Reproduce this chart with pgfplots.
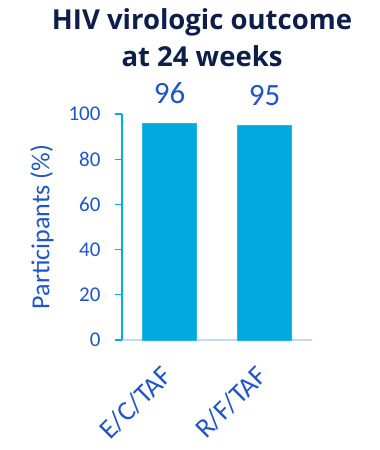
\documentclass[border=0pt]{standalone}
\usepackage{pgfplots}
\pgfplotsset{compat=1.18}
\usepackage{fontspec}
\setmainfont{Carlito}
\newfontfamily\titlefont{Open Sans}

\definecolor{barcyan}{HTML}{00A9DF}
\definecolor{axiscyan}{HTML}{00ADE6}
\definecolor{baseline}{HTML}{C6DAF2}
\definecolor{textblue}{HTML}{1F55C8}
\definecolor{titlenavy}{HTML}{0E1E4A}

\begin{document}
\begin{tikzpicture}
\begin{axis}[
  at={(0,0)}, anchor=south west,
  scale only axis, width=190bp, height=226bp,
  xmin=-0.5, xmax=1.5, ymin=0, ymax=100,
  axis x line=bottom, axis y line=left,
  axis line style={-},
  x axis line style={draw=baseline, line width=1.2bp},
  y axis line style={draw=axiscyan, line width=1.5bp},
  ytick={0,20,...,100},
  tick align=outside, major tick length=7bp,
  ytick style={draw=axiscyan, line width=1.2bp},
  xtick={0,1}, xticklabels={E/C/TAF,R/F/TAF},
  xtick style={draw=none},
  /pgf/number format/assume math mode=true,
  yticklabel style={font=\fontsize{21bp}{24bp}\selectfont, text=textblue, xshift=-11bp},
  xticklabel shift=22bp,
  xticklabel style={font=\fontsize{27.5bp}{32bp}\selectfont, text=textblue, rotate=45, anchor=east},
  ylabel={Participants (\%)},
  every axis y label/.style={at={(axis description cs:0,0.5)}, xshift=-80bp, rotate=90, anchor=center,
    font=\fontsize{26bp}{30bp}\selectfont, text=textblue},
  ybar, bar width=54bp,
  nodes near coords,
  every node near coord/.style={anchor=base, yshift=20bp, font=\fontsize{31bp}{36bp}\selectfont, text=textblue},
]
\addplot[fill=barcyan, draw=barcyan!85!white, line width=0.6bp] coordinates {(0,96) (1,95)};
\end{axis}
\node[anchor=base, text=titlenavy, font=\titlefont\bfseries\fontsize{27.5bp}{32bp}\selectfont] at (80bp,310bp) {HIV virologic outcome};
\node[anchor=base, text=titlenavy, font=\titlefont\bfseries\fontsize{27.5bp}{32bp}\selectfont] at (80bp,273bp) {at 24 weeks};
\pgfresetboundingbox
\useasboundingbox (-122bp,-110bp) rectangle (258bp,340bp);
\end{tikzpicture}
\end{document}
